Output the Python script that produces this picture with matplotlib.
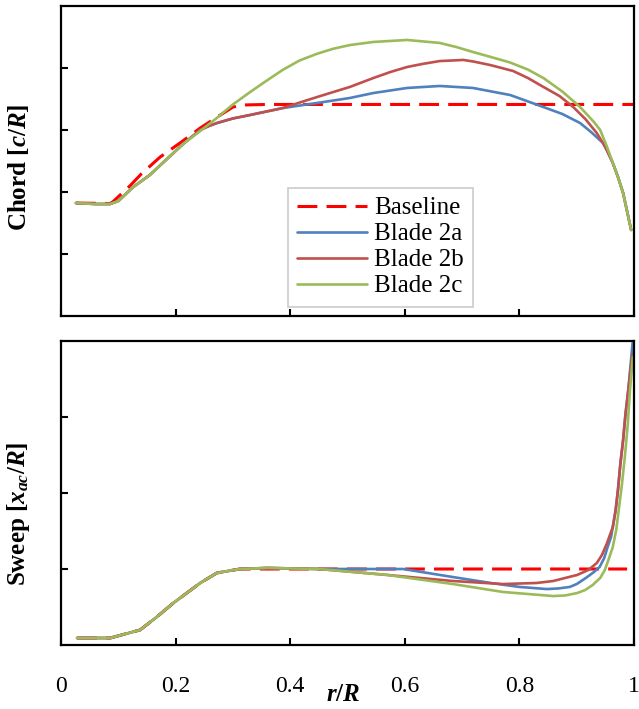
import matplotlib
matplotlib.use("Agg")
import matplotlib.pyplot as plt
from matplotlib.ticker import FixedLocator, NullFormatter

plt.rcParams['font.family'] = ['Liberation Serif', 'DejaVu Serif']
plt.rcParams['mathtext.fontset'] = 'custom'
plt.rcParams['mathtext.rm'] = 'Liberation Serif:bold'
plt.rcParams['mathtext.it'] = 'Liberation Serif:italic:bold'
plt.rcParams['mathtext.bf'] = 'Liberation Serif:bold'

# ---------------- data ----------------
series_names = ["Baseline", "Blade 2a", "Blade 2b", "Blade 2c"]
x_ticks = [0, 0.2, 0.4, 0.6, 0.8, 1]
x_ticklabels = ["0", "0.2", "0.4", "0.6", "0.8", "1"]

# Chord c/R
chord_base_x = [0.026, 0.0855, 0.09, 0.12, 0.14, 0.173, 0.21, 0.243, 0.27, 0.30, 0.32, 0.36, 1.0]
chord_base_y = [0.0911, 0.0907, 0.0919, 0.1048, 0.1145, 0.1282, 0.1403, 0.1516, 0.1597, 0.1685, 0.1702, 0.1706, 0.1706]

chord_2a_x = [0.026, 0.06, 0.0855, 0.10, 0.126, 0.155, 0.213, 0.228, 0.243, 0.258, 0.272, 0.30, 0.330, 0.387,
              0.447, 0.504, 0.545, 0.604, 0.661, 0.719, 0.784, 0.842, 0.875, 0.906, 0.925, 0.946, 0.955,
              0.963, 0.972, 0.981, 0.995]
chord_2a_y = [0.0911, 0.0903, 0.0903, 0.0927, 0.1040, 0.1137, 0.1387, 0.1444, 0.1500, 0.1532, 0.1556, 0.1593, 0.1621, 0.1677,
              0.1718, 0.1758, 0.1798, 0.1839, 0.1855, 0.1839, 0.1782, 0.1685, 0.1629, 0.1556, 0.1484, 0.1395, 0.1315,
              0.1234, 0.1121, 0.0992, 0.0694]

chord_2b_x = [0.026, 0.06, 0.0855, 0.10, 0.126, 0.155, 0.213, 0.228, 0.243, 0.258, 0.272, 0.30, 0.330, 0.387,
              0.417, 0.447, 0.475, 0.504, 0.545, 0.575, 0.604, 0.63, 0.661, 0.68, 0.702, 0.72, 0.749, 0.789,
              0.815, 0.842, 0.87, 0.894, 0.915, 0.935, 0.95, 0.963, 0.972, 0.981, 0.995]
chord_2b_y = [0.0911, 0.0903, 0.0903, 0.0927, 0.1040, 0.1137, 0.1387, 0.1444, 0.1500, 0.1532, 0.1556, 0.1593, 0.1621, 0.1677,
              0.1722, 0.1766, 0.1806, 0.1847, 0.1919, 0.1968, 0.2008, 0.2032, 0.2056, 0.2060, 0.2065, 0.2052, 0.2024, 0.1976,
              0.1919, 0.1847, 0.1774, 0.1685, 0.1589, 0.1476, 0.1363, 0.1234, 0.1121, 0.0992, 0.0694]

chord_2c_x = [0.026, 0.06, 0.0855, 0.10, 0.126, 0.155, 0.213, 0.243, 0.272, 0.30, 0.330, 0.358, 0.387, 0.416,
              0.447, 0.475, 0.504, 0.545, 0.604, 0.661, 0.69, 0.719, 0.75, 0.784, 0.815, 0.842, 0.875, 0.906, 0.93,
              0.941, 0.953, 0.963, 0.972, 0.981, 0.995]
chord_2c_y = [0.0911, 0.0903, 0.0903, 0.0927, 0.1040, 0.1137, 0.1387, 0.1492, 0.1597, 0.1706, 0.1806, 0.1895, 0.1985, 0.2060,
              0.2115, 0.2155, 0.2185, 0.2210, 0.2226, 0.2202, 0.2169, 0.2129, 0.2089, 0.2044, 0.1987, 0.1919, 0.1810, 0.1685, 0.1565,
              0.1500, 0.1363, 0.1234, 0.1121, 0.0992, 0.0694]

# Sweep x_ac/R
sweep_base_x = [0.028, 0.086, 0.138, 0.167, 0.196, 0.243, 0.272, 0.312, 0.36, 0.988]
sweep_base_y = [-0.0454, -0.0454, -0.0401, -0.0316, -0.0224, -0.0092, -0.0026, 0.0, 0.0, 0.0]

sweep_2a_x = [0.028, 0.086, 0.138, 0.167, 0.196, 0.243, 0.272, 0.312, 0.36, 0.45, 0.597, 0.684, 0.75, 0.80,
              0.848, 0.868, 0.888, 0.90, 0.916, 0.930, 0.940, 0.948, 0.954, 0.96, 0.963, 0.968, 0.972, 0.976,
              0.981, 0.985, 0.990, 0.994, 0.998]
sweep_2a_y = [-0.0454, -0.0454, -0.0401, -0.0316, -0.0224, -0.0092, -0.0026, 0.0, 0.0007, 0.0, 0.0, -0.0053, -0.0092, -0.0118,
              -0.0132, -0.0128, -0.0118, -0.0099, -0.0059, -0.0020, 0.0013, 0.0072, 0.0145, 0.0211, 0.0276, 0.0388, 0.0520, 0.0684,
              0.0849, 0.1013, 0.1178, 0.1342, 0.1507]

sweep_2b_x = [0.028, 0.086, 0.138, 0.167, 0.196, 0.243, 0.272, 0.312, 0.36, 0.45, 0.569, 0.684, 0.771, 0.83,
              0.859, 0.901, 0.92, 0.935, 0.944, 0.953, 0.958, 0.963, 0.968, 0.972, 0.976, 0.981, 0.985,
              0.990, 0.994, 0.997]
sweep_2b_y = [-0.0454, -0.0454, -0.0401, -0.0316, -0.0224, -0.0092, -0.0026, 0.0, 0.0007, 0.0, -0.0039, -0.0079, -0.0099, -0.0092,
              -0.0079, -0.0039, -0.0007, 0.0039, 0.0092, 0.0171, 0.0224, 0.0276, 0.0388, 0.0520, 0.0684, 0.0849, 0.1013,
              0.1178, 0.1310, 0.1408]

sweep_2c_x = [0.028, 0.086, 0.138, 0.167, 0.196, 0.243, 0.272, 0.312, 0.36, 0.45, 0.569, 0.684, 0.771, 0.859,
              0.88, 0.901, 0.915, 0.928, 0.941, 0.949, 0.956, 0.963, 0.969, 0.974, 0.979, 0.984, 0.989,
              0.993, 0.998]
sweep_2c_y = [-0.0454, -0.0454, -0.0401, -0.0316, -0.0224, -0.0092, -0.0026, 0.0, 0.0007, 0.0, -0.0039, -0.0099, -0.0151, -0.0178,
              -0.0174, -0.0158, -0.0138, -0.0105, -0.0059, -0.0007, 0.0066, 0.0145, 0.0257, 0.0408, 0.0559, 0.0737, 0.0947,
              0.1178, 0.1395]

# ---------------- styling ----------------
colors = ["#FF0000", "#4F81BD", "#C0504D", "#9BBB59"]
W, H = 639, 709
fig = plt.figure(figsize=(W / 100, H / 100), dpi=100)

def rect(l, t, r, b):
    return [l / W, 1 - b / H, (r - l) / W, (b - t) / H]

ax1 = fig.add_axes(rect(61, 6, 634, 316))
ax2 = fig.add_axes(rect(61, 341, 634, 645))

lw = 1.9
dash = (0, (6.5, 3.0))
common = dict(solid_joinstyle='round', solid_capstyle='round')

ax1.plot(chord_base_x, chord_base_y, color=colors[0], lw=2.2, ls=dash, label=series_names[0])
ax1.plot(chord_2a_x, chord_2a_y, color=colors[1], lw=lw, label=series_names[1], **common)
ax1.plot(chord_2b_x, chord_2b_y, color=colors[2], lw=lw, label=series_names[2], **common)
ax1.plot(chord_2c_x, chord_2c_y, color=colors[3], lw=lw, label=series_names[3], **common)

ax2.plot(sweep_base_x, sweep_base_y, color=colors[0], lw=2.2, ls=dash)
ax2.plot(sweep_2a_x, sweep_2a_y, color=colors[1], lw=lw, **common)
ax2.plot(sweep_2b_x, sweep_2b_y, color=colors[2], lw=lw, **common)
ax2.plot(sweep_2c_x, sweep_2c_y, color=colors[3], lw=lw, **common)

ax1.set_ylim(0, 0.25)
ax1.yaxis.set_major_locator(FixedLocator([0.05, 0.10, 0.15, 0.20]))
ax2.set_ylim(-0.05, 0.15)
ax2.yaxis.set_major_locator(FixedLocator([0.0, 0.05, 0.10]))

for ax in (ax1, ax2):
    ax.set_xlim(0, 1)
    ax.set_xticks(x_ticks)
    ax.yaxis.set_major_formatter(NullFormatter())
    for s in ax.spines.values():
        s.set_linewidth(1.6)
        s.set_color("black")
    ax.tick_params(direction='in', length=5, width=1.5, colors='black',
                   top=False, right=False)

ax1.set_xticklabels([])
ax2.set_xticklabels(x_ticklabels, fontsize=17)
ax2.tick_params(axis='x', pad=22)

fig.text(19 / W, 1 - 167 / H, "Chord [$c/R$]", rotation=90, ha='center', va='center',
         fontsize=18, fontweight='bold')
fig.text(19 / W, 1 - 514 / H, "Sweep [$x_{ac}/R$]", rotation=90, ha='center', va='center',
         fontsize=18, fontweight='bold')
fig.text(343 / W, 1 - 695 / H, "$r/R$", ha='center', va='center', fontsize=18)

leg = ax1.legend(loc='upper left', bbox_to_anchor=((288 - 61) / 573, (316 - 188) / 310),
                 fontsize=18, frameon=True, fancybox=False, handlelength=2.8,
                 handletextpad=0.3, labelspacing=0.14, borderpad=0.36, borderaxespad=0)
leg.get_frame().set_edgecolor("#BFBFBF")
leg.get_frame().set_linewidth(1.2)

fig.savefig("out.png", dpi=100)
